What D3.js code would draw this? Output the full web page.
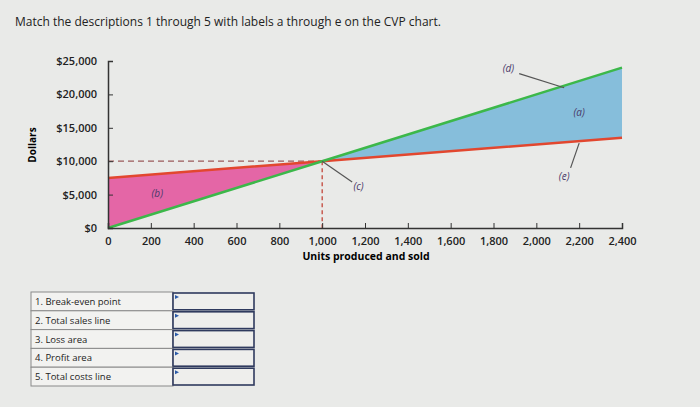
<!DOCTYPE html>
<html>
<head>
<meta charset="utf-8">
<script src="https://cdn.jsdelivr.net/npm/d3@7"></script>
<style>
  body { margin: 0; background: #e9eae8; font-family: "Open Sans", sans-serif; }
  .axis path, .axis line { stroke: #333; }
  .axis text { font-family: "Open Sans", sans-serif; font-size: 11px; font-weight: 600; fill: #222; }
</style>
</head>
<body>
<div id="chart"></div>
<script>
// CVP data
const units = [0, 1000, 2400];
const sales = [0, 10000, 24000];
const costs = [7500, 10000, 13500];
const xTicks = [0, 200, 400, 600, 800, 1000, 1200, 1400, 1600, 1800, 2000, 2200, 2400];
const yTicks = [0, 5000, 10000, 15000, 20000, 25000];
const breakEven = {units: 1000, dollars: 10000};
// annotation labels: [text, x units, y dollars, leader-from units, dollars, leader-to units, dollars]
const labels = [
    ['(a)', 2200, 16800, null],
    ['(b)', 230, 4600, null],
    ['(c)', 1170, 5700, [1000, 10000], [1140, 6900]],
    ['(d)', 1870, 23300, [1920, 23100], [2130, 21000]],
    ['(e)', 2130, 7200, [2160, 9000], [2200, 12700]]
];
const rows = ['1. Break-even point', '2. Total sales line', '3. Loss area', '4. Profit area', '5. Total costs line'];

const W = 700, H = 407;
const svg = d3.select('#chart').append('svg').attr('width', W).attr('height', H);

const x = d3.scaleLinear().domain([0, 2400]).range([108, 622]);
const y = d3.scaleLinear().domain([0, 25000]).range([228, 61]);

svg.append('text').attr('x', 15).attr('y', 26)
    .style('font-size', '12px').style('fill', '#222')
    .text('Match the descriptions 1 through 5 with labels a through e on the CVP chart.');

// loss area (pink) and profit area (blue)
const salesAt = u => d3.scaleLinear().domain(units).range(sales)(u);
const costAt = u => d3.scaleLinear().domain(units).range(costs)(u);
const lossUnits = [0, breakEven.units];
const profitUnits = [breakEven.units, 2400];
const area = d3.area().x(d => x(d)).y0(d => y(salesAt(d))).y1(d => y(costAt(d)));
svg.append('path').datum(lossUnits).attr('d', area).attr('fill', '#e466a6');
svg.append('path').datum(profitUnits).attr('d', area).attr('fill', '#86bedb');

// dashed guides
svg.append('line').attr('x1', x(0)).attr('x2', x(breakEven.units))
    .attr('y1', y(breakEven.dollars)).attr('y2', y(breakEven.dollars))
    .attr('stroke', '#9a5a5a').attr('stroke-width', 1.2).attr('stroke-dasharray', '6,4');
svg.append('line').attr('x1', x(breakEven.units)).attr('x2', x(breakEven.units))
    .attr('y1', y(breakEven.dollars)).attr('y2', y(0))
    .attr('stroke', '#c0392b').attr('stroke-width', 1.2).attr('stroke-dasharray', '4,3');

const line = vals => d3.line().x((d, i) => x(units[i])).y(d => y(d))(vals);
svg.append('path').attr('d', line(costs)).attr('fill', 'none').attr('stroke', '#e2472f').attr('stroke-width', 2.5);
svg.append('path').attr('d', line(sales)).attr('fill', 'none').attr('stroke', '#3cb84a').attr('stroke-width', 2.5);

// axes
svg.append('g').attr('class', 'axis').attr('transform', 'translate(0,' + y(0) + ')')
    .call(d3.axisBottom(x).tickValues(xTicks).tickSize(-5).tickPadding(9)
        .tickFormat(d => d === 0 ? '0' : d3.format(',')(d)));
svg.append('g').attr('class', 'axis').attr('transform', 'translate(' + x(0) + ',0)')
    .call(d3.axisLeft(y).tickValues(yTicks).tickSize(-5).tickPadding(11)
        .tickFormat(d => '$' + d3.format(',')(d)));
svg.selectAll('.axis .domain').attr('stroke-width', 1.5);

svg.append('text').attr('transform', 'translate(36,145) rotate(-90)')
    .attr('text-anchor', 'middle').style('font-size', '10px').style('font-weight', 700).text('Dollars');
svg.append('text').attr('x', 366).attr('y', 260).attr('text-anchor', 'middle')
    .style('font-size', '10.5px').style('font-weight', 700).text('Units produced and sold');

// annotations
labels.forEach(l => {
    if (l[3]) {
        svg.append('line').attr('x1', x(l[3][0])).attr('y1', y(l[3][1]))
            .attr('x2', x(l[4][0])).attr('y2', y(l[4][1]))
            .attr('stroke', '#555').attr('stroke-width', 1.2);
    }
    svg.append('text').attr('x', x(l[1])).attr('y', y(l[2])).attr('text-anchor', 'middle')
        .style('font-size', '10px').style('font-style', 'italic').style('fill', '#4a3a6a').text(l[0]);
});

// matching table
const tx = 31, ty = 292, rh = 18.8, c1 = 142, c2 = 81;
const g = svg.append('g');
rows.forEach((r, i) => {
    g.append('rect').attr('x', tx).attr('y', ty + i * rh).attr('width', c1).attr('height', rh)
        .attr('fill', '#f2f2f0').attr('stroke', '#8a8a8a').attr('stroke-width', 1);
    g.append('text').attr('x', tx + 4).attr('y', ty + i * rh + 13)
        .style('font-size', '9.5px').style('fill', '#222').text(r);
    g.append('rect').attr('x', tx + c1).attr('y', ty + i * rh + 1).attr('width', c2).attr('height', rh - 2)
        .attr('fill', '#eeeeec').attr('stroke', '#2f3a5e').attr('stroke-width', 1.6);
    g.append('path').attr('d', 'M' + (tx + c1 + 2) + ',' + (ty + i * rh + 3) + 'l4,2l-4,2z').attr('fill', '#2a5aa8');
});
</script>
</body>
</html>
